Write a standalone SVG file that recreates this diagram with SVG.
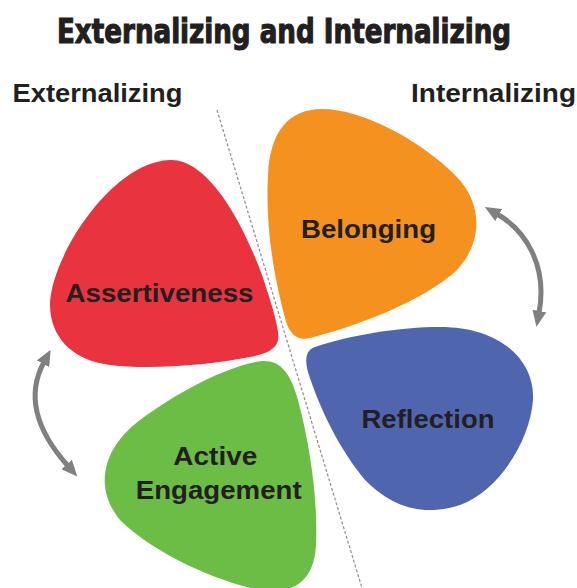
<svg xmlns="http://www.w3.org/2000/svg" width="577" height="588" viewBox="0 0 577 588">
<style>
.title{font-family:"Liberation Sans Narrow","DejaVu Sans Condensed","Liberation Sans",sans-serif;font-weight:bold;font-size:34px;fill:#231f20;stroke:#231f20;stroke-width:1.1}
.side{font-family:"Liberation Sans",Arial,sans-serif;font-weight:bold;font-size:26px;fill:#231f20}
.lbl{font-family:"Liberation Sans",Arial,sans-serif;font-weight:bold;font-size:26px;fill:#231f20;text-anchor:middle}
.arrow{fill:none;stroke:#808080;stroke-width:5}
.divider{stroke:#9a8a84;stroke-width:1.2;stroke-dasharray:3 2;fill:none}
</style>
<defs>
<marker id="ah" viewBox="0 0 16 14" refX="2" refY="7" markerWidth="16" markerHeight="14" markerUnits="userSpaceOnUse" orient="auto-start-reverse">
<path d="M0,0 L16,7 L0,14 z" fill="#808080"/>
</marker>
</defs>
<rect width="577" height="588" fill="#ffffff"/>
<text class="title" x="57" y="42.5" textLength="454" lengthAdjust="spacingAndGlyphs">Externalizing and Internalizing</text>
<text class="side" x="12.5" y="101.7" textLength="170" lengthAdjust="spacingAndGlyphs">Externalizing</text>
<text class="side" x="411" y="101.7" textLength="165" lengthAdjust="spacingAndGlyphs">Internalizing</text>
<g id="connectors">
<path class="divider" d="M217,110 L362,588"/>
<path class="arrow" d="M44,362 Q18,410 68,466" marker-start="url(#ah)" marker-end="url(#ah)"/>
<path class="arrow" d="M497,214 C525,230 548,265 539,313" marker-start="url(#ah)" marker-end="url(#ah)"/>
</g>
<g id="assertiveness">
<path fill="#e9343f" d="M170,160 C205,158 240,215 262,275 C272,305 280,330 278,340 C276,350 265,354 250,357 C210,365 150,370 110,365 C70,360 50,335 50,305 C50,260 110,162 170,160 Z"/>
<text class="lbl" x="159.5" y="302" textLength="188" lengthAdjust="spacingAndGlyphs">Assertiveness</text>
</g>
<g id="belonging">
<path fill="#f5921f" d="M322,109 C362,109 420,140 455,175 C485,205 482,245 455,272 C420,302 360,325 310,338 C295,342 288,330 285,318 C275,280 265,230 268,175 C270,130 290,109 322,109 Z"/>
<text class="lbl" x="368.5" y="237.5" textLength="135" lengthAdjust="spacingAndGlyphs">Belonging</text>
</g>
<g id="reflection">
<path fill="#4f66af" d="M315,347 C350,335 400,327 440,327 C500,327 535,360 533,400 C530,440 500,490 460,505 C420,518 390,505 365,480 C340,450 320,410 308,372 C305,360 305,351 315,347 Z"/>
<text class="lbl" x="428" y="428.3" textLength="133" lengthAdjust="spacingAndGlyphs">Reflection</text>
</g>
<g id="active-engagement">
<path fill="#6bbd45" d="M262,361 C280,360 290,372 298,400 C310,445 318,500 316,545 C314,580 295,595 260,590 C210,580 150,550 120,520 C95,490 100,450 140,420 C180,390 230,365 262,361 Z"/>
<text class="lbl" x="215.3" y="465" textLength="84" lengthAdjust="spacingAndGlyphs">Active</text>
<text class="lbl" x="218.7" y="499" textLength="166" lengthAdjust="spacingAndGlyphs">Engagement</text>
</g>
</svg>
